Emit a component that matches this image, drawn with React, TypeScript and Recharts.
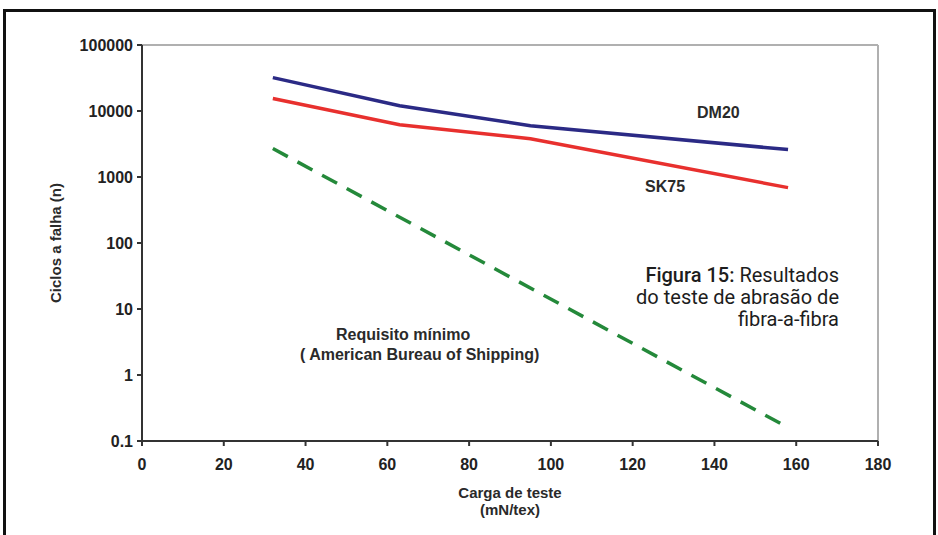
import { LineChart, Line, XAxis, YAxis, ReferenceLine } from 'recharts';

// test load (mN/tex) and cycles to failure
const loads = [32, 63, 95, 158];
const dm20 = [32000, 12000, 6000, 2600];
const sk75 = [15500, 6200, 3800, 690];
const minReq = [2700, null, null, 0.16];

const xTicks = [0, 20, 40, 60, 80, 100, 120, 140, 160, 180];
const yTicks = [0.1, 1, 10, 100, 1000, 10000, 100000];

const data = loads.map((x, i) => ({ x, dm20: dm20[i], sk75: sk75[i], req: minReq[i] }));

const TICK_FONT = { fontSize: 16, fontWeight: 'bold', fill: '#222', fontFamily: '"Liberation Sans", Arial, sans-serif' };
const NOTE: React.CSSProperties = {
  position: 'absolute',
  fontFamily: '"Liberation Sans", Arial, sans-serif',
  fontWeight: 'bold',
  fontSize: 16,
  color: '#2a2a2a',
  whiteSpace: 'nowrap',
  lineHeight: '20px',
};

export default function App() {
  return (
    <div style={{ position: 'absolute', left: 0, top: 0, width: 938, height: 535, background: '#fff', overflow: 'hidden' }}>
      <div
        style={{
          position: 'absolute',
          left: 3,
          top: 9,
          width: 933,
          height: 540,
          border: '3px solid #111',
          boxSizing: 'border-box',
        }}
      />
      <LineChart width={938} height={535} data={data} margin={{ top: 45, right: 60, left: 0, bottom: 0 }}>
        <XAxis
          dataKey="x"
          type="number"
          domain={[0, 180]}
          ticks={xTicks}
          height={94}
          tick={TICK_FONT}
          tickSize={5}
          tickMargin={13}
          axisLine={{ stroke: '#333', strokeWidth: 2 }}
          tickLine={{ stroke: '#333', strokeWidth: 2 }}
        />
        <YAxis
          type="number"
          scale="log"
          domain={[0.1, 100000]}
          allowDataOverflow
          ticks={yTicks}
          width={142}
          tick={TICK_FONT}
          tickSize={5}
          tickMargin={4}
          tickFormatter={(v: number) => (v < 1 ? '0.1' : String(v))}
          axisLine={{ stroke: '#333', strokeWidth: 2 }}
          tickLine={{ stroke: '#333', strokeWidth: 2 }}
        />
        <ReferenceLine y={100000} stroke="#b0b0b0" strokeWidth={2} />
        <ReferenceLine x={180} stroke="#b0b0b0" strokeWidth={2} />
        <Line dataKey="dm20" type="linear" stroke="#2b2a85" strokeWidth={3.5} dot={false} isAnimationActive={false} />
        <Line dataKey="sk75" type="linear" stroke="#e8302e" strokeWidth={3.5} dot={false} isAnimationActive={false} />
        <Line
          dataKey="req"
          type="linear"
          connectNulls
          stroke="#24893a"
          strokeWidth={3.5}
          strokeDasharray="17 11"
          dot={false}
          isAnimationActive={false}
        />
      </LineChart>

      <div
        style={{
          ...NOTE,
          fontSize: 15,
          left: 56,
          top: 243,
          transform: 'translate(-50%, -50%) rotate(-90deg)',
        }}
      >
        Ciclos a falha (n)
      </div>
      <div style={{ ...NOTE, fontSize: 15, lineHeight: '17px', left: 510, top: 484, transform: 'translateX(-50%)', textAlign: 'center' }}>
        Carga de teste
        <br />
        (mN/tex)
      </div>

      <div style={{ ...NOTE, left: 697, top: 103 }}>DM20</div>
      <div style={{ ...NOTE, left: 645, top: 177 }}>SK75</div>
      <div style={{ ...NOTE, left: 336, top: 325 }}>Requisito mínimo</div>
      <div style={{ ...NOTE, left: 300, top: 345 }}>( American Bureau of Shipping)</div>

      <div
        style={{
          position: 'absolute',
          right: 938 - 839,
          top: 264,
          textAlign: 'right',
          fontFamily: 'Roboto, "Open Sans", sans-serif',
          fontSize: 20,
          lineHeight: '22px',
          color: '#1d1d1d',
          whiteSpace: 'nowrap',
        }}
      >
        <b style={{ fontWeight: 500 }}>Figura 15:</b> Resultados
        <br />
        do teste de abrasão de
        <br />
        fibra-a-fibra
      </div>
    </div>
  );
}
